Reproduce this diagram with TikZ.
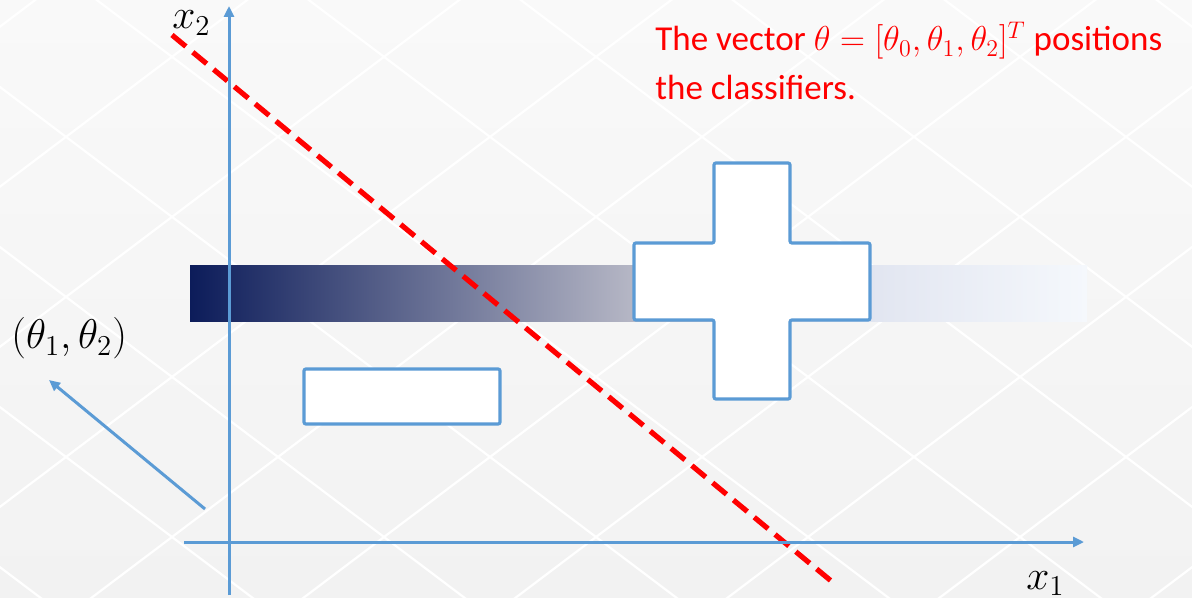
\documentclass[tikz,border=0pt]{standalone}
\usepackage[no-math]{fontspec}
\newfontfamily\notefont{Carlito}
\usetikzlibrary{arrows.meta}
\definecolor{axisblue}{HTML}{5B9BD5}
\definecolor{bgtop}{HTML}{F9F9F9}
\definecolor{bgbot}{HTML}{F2F2F2}
\definecolor{barnavy}{HTML}{0C1C5A}
\definecolor{barmid}{HTML}{B7B8C6}
\definecolor{barlight}{HTML}{E2E6F1}
\definecolor{barend}{HTML}{F5F8FC}
\pgfdeclarehorizontalshading{barfade}{100bp}{color(0bp)=(barnavy); color(25bp)=(barnavy); color(49.9bp)=(barmid); color(63.3bp)=(barlight); color(75bp)=(barend); color(100bp)=(barend)}
\begin{document}
\begin{tikzpicture}[x=0.5pt, y=-0.5pt,
		axis/.style={draw=axisblue, line width=1.5pt, -{Triangle[length=5.5pt, width=5pt]}},
		boundary/.style={draw=red, line width=2.6pt, dash pattern=on 9pt off 4.5pt},
		region/.style={draw=axisblue, line width=1.6pt, fill=white, rounded corners=1pt},
		lattice/.style={white, line width=1.1pt},
		mathlbl/.style={inner sep=0pt, anchor=base west, font=\fontsize{20}{24}\selectfont}]
			% Khung nen co luoi hinh thoi
			\useasboundingbox (0,0) rectangle (1192,598);
			\shade[top color=bgtop, bottom color=bgbot] (0,0) rectangle (1192,598);
			\begin{scope}
				\clip (0,0) rectangle (1192,598);
				\foreach \k in {-5,...,9} {
					\draw[lattice] ({172+212*\k-800},{537-604}) -- ({172+212*\k+800},{537+604});
					\draw[lattice] ({172+212*\k-800},{537+604}) -- ({172+212*\k+800},{537-604});
				}
			\end{scope}
			
			% Dai mau chuyen tu xanh dam sang nhat
			\shade[shading=barfade] (190,266) rectangle (1087,322);
			
			% Vung lop duong (dau cong) va lop am (dau tru)
			\draw[region] (714,163) -- (790,163) -- (790,243) -- (870,243) -- (870,320) -- (790,320)
				-- (790,399) -- (714,399) -- (714,320) -- (634,320) -- (634,243) -- (714,243) -- cycle;
			\draw[region] (304,369) rectangle (500,424);
			
			% Duong phan lop
			\coordinate (db1) at (172,35);
			\coordinate (db2) at (836,585);
			\draw[boundary] (db1) -- (db2);
			
			% Truc toa do
			\coordinate (ox) at (184,542);
			\coordinate (ex) at (1084,542);
			\coordinate (oy) at (229,595);
			\coordinate (ey) at (229,6);
			\draw[axis] (ox) -- (ex);
			\draw[axis] (oy) -- (ey);
			\node[mathlbl] (x1lbl) at (1026,589) {$x_1$};
			\node[mathlbl] (x2lbl) at (172,29) {$x_2$};
			
			% Vec to phap tuyen
			\coordinate (nstart) at (205,509);
			\coordinate (ntip) at (49,380);
			\draw[axis] (nstart) -- (ntip);
			\node[mathlbl] (nlbl) at (11,349) {$(\theta_1,\theta_2)$};
			
			% Ghi chu
			\node[inner sep=0pt, anchor=base west, align=left, text=red,
				font=\notefont\fontsize{17.5}{24.5}\selectfont] (note) at (655,100)
				{The vector {\fontsize{18.5}{24.5}\selectfont$\theta=[\theta_0,\theta_1,\theta_2]^T$} positions\\the classifiers.};
		\end{tikzpicture}
\end{document}
